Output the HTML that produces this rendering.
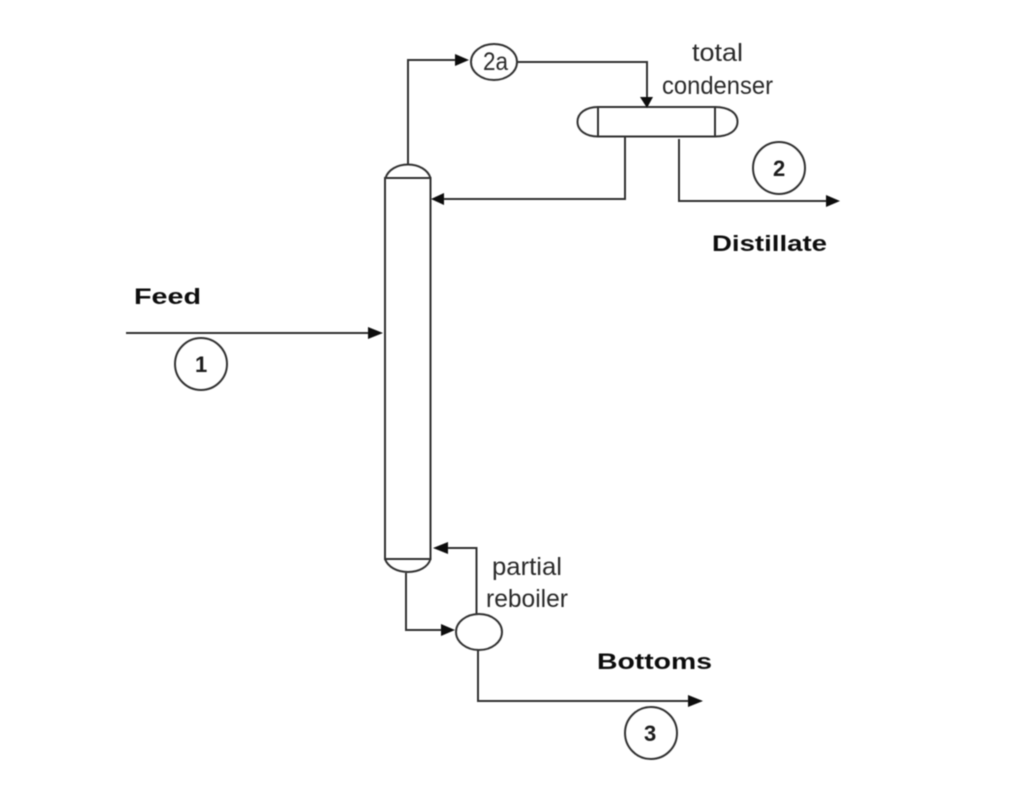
<!DOCTYPE html>
<html>
<head>
<meta charset="utf-8">
<style>
html,body{margin:0;padding:0;background:#fff;}
svg{display:block;}
text{font-family:"Liberation Sans",sans-serif;fill:#2b2b2b;}
.b{font-weight:bold;fill:#111;font-size:22px;}
.n{font-size:25px;}
.c{font-weight:bold;font-size:22px;fill:#1a1a1a;}
</style>
</head>
<body>
<svg width="1024" height="790" viewBox="0 0 1024 790" xmlns="http://www.w3.org/2000/svg">
<defs><filter id="s" filterUnits="userSpaceOnUse" x="0" y="0" width="1024" height="790"><feGaussianBlur stdDeviation="0.45"/></filter></defs>
<g filter="url(#s)">
<g fill="none" stroke="#333" stroke-width="2">
  <!-- column -->
  <rect x="385" y="178" width="45.500" height="381"/>
  <path d="M385.500 178C388 170 397 164.500 408 164.500C419 164.500 428 170 430.500 178"/>
  <path d="M385 559C388 567 397 572 408 572C419 572 428 567 430.500 559"/>
  <!-- overhead -->
  <polyline points="408,164 408,60 456,60"/>
  <ellipse cx="494" cy="62" rx="23" ry="18"/>
  <polyline points="517,62 647,62 647,98"/>
  <!-- condenser -->
  <rect x="598" y="107" width="117" height="29.500"/>
  <path d="M598 107C586 107 577.500 113 577.500 121.750C577.500 130.500 586 136.500 598 136.500"/>
  <path d="M715 107C729 107 737.500 113 737.500 121.750C737.500 130.500 729 136.500 715 136.500"/>
  <!-- reflux -->
  <polyline points="625,137 625,199 444,199"/>
  <!-- distillate -->
  <polyline points="679,139 679,201 827,201"/>
  <!-- feed -->
  <line x1="126" y1="333" x2="369" y2="333"/>
  <!-- bottoms -->
  <polyline points="406,573 406,630 442,630"/>
  <ellipse cx="479" cy="632" rx="23" ry="18"/>
  <polyline points="476.500,614 476.500,548 447,548"/>
  <polyline points="478,650 478,701 688,701"/>
  <!-- numbered circles -->
  <circle cx="779" cy="168" r="26"/>
  <circle cx="201" cy="364" r="26"/>
  <circle cx="651" cy="733" r="26"/>
</g>
<g fill="#111" stroke="none">
  <polygon points="469,60 455,54 455,66"/>
  <polygon points="647,108 640,97 653,97"/>
  <polygon points="431,199 444,193 444,205"/>
  <polygon points="840,201 826,195 826,207"/>
  <polygon points="383,333 368,327 368,339"/>
  <polygon points="455,630 441,624 441,636"/>
  <polygon points="433,548 448,542 448,554"/>
  <polygon points="703,701 688,695 688,707"/>
</g>
<text class="n" x="483" y="70" textLength="25" lengthAdjust="spacingAndGlyphs">2a</text>
<text class="n" x="692" y="61" textLength="51" lengthAdjust="spacingAndGlyphs">total</text>
<text class="n" x="662" y="94" textLength="111" lengthAdjust="spacingAndGlyphs">condenser</text>
<text class="n" x="492" y="575" textLength="70" lengthAdjust="spacingAndGlyphs">partial</text>
<text class="n" x="486" y="607" textLength="82" lengthAdjust="spacingAndGlyphs">reboiler</text>
<text class="b" x="134" y="304" textLength="67" lengthAdjust="spacingAndGlyphs">Feed</text>
<text class="b" x="712" y="251" textLength="115" lengthAdjust="spacingAndGlyphs">Distillate</text>
<text class="b" x="597" y="669" textLength="115" lengthAdjust="spacingAndGlyphs">Bottoms</text>
<text class="c" x="195" y="372">1</text>
<text class="c" x="773" y="176">2</text>
<text class="c" x="644" y="741">3</text>
</g>
</svg>
</body>
</html>
